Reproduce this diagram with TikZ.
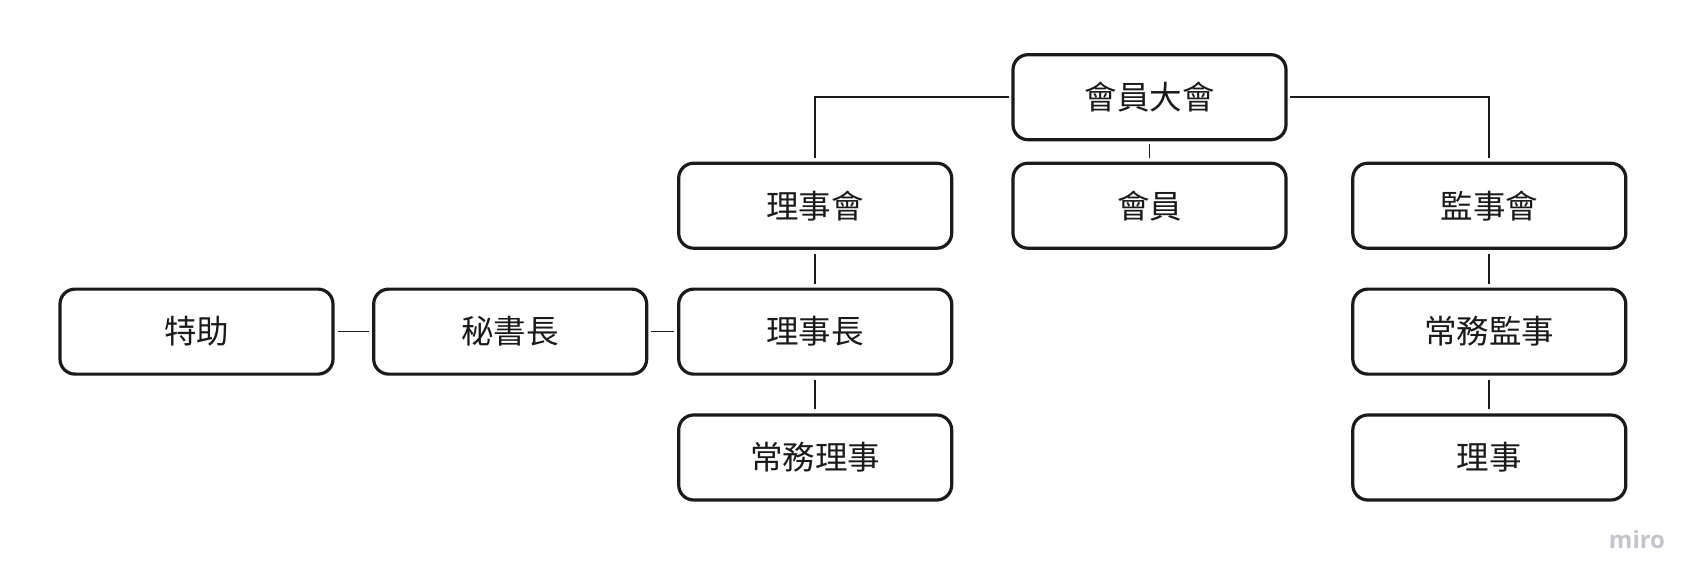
\documentclass[tikz,border=0pt]{standalone}
\usepackage{fontspec}
\newfontfamily\cjk{Noto Sans CJK TC}
\newfontfamily\logofont{Open Sans}
\definecolor{ink}{HTML}{1A1A1A}
\definecolor{logo}{HTML}{C4C4CE}
\begin{document}
\begin{tikzpicture}[x=1pt,y=-1pt,
  box/.style={draw=ink, line width=3.2pt, rounded corners=15pt, minimum width=273pt, minimum height=85pt, inner sep=0pt, font=\cjk\fontsize{32.5}{38}\selectfont, text=ink},
  conn/.style={draw=ink, line width=1.7pt},
  thin/.style={draw=ink, line width=1.1pt}]
\useasboundingbox (0,0) rectangle (1702,587);
\fill[white] (0,0) rectangle (1702,587);
\node[box] (gm) at (1149.5,97.2) {會員大會};
\node[box] (bd) at (815.2,205.7) {理事會};
\node[box] (mem) at (1149.5,205.7) {會員};
\node[box] (sv) at (1489.3,205.7) {監事會};
\node[box] (chair) at (815.2,331.6) {理事長};
\node[box] (sec) at (510.2,331.6) {秘書長};
\node[box] (asst) at (196.5,331.6) {特助};
\node[box] (exec) at (815.2,457.5) {常務理事};
\node[box] (csv) at (1489.3,331.6) {常務監事};
\node[box] (dir) at (1489.3,457.5) {理事};
\node[font=\logofont\bfseries\fontsize{24}{28}\selectfont, text=logo] (miro) at (1637,539) {miro};
\draw[conn, shorten >=4pt, shorten <=2pt] (gm.west) -| (bd.north);
\draw[conn, shorten >=4pt, shorten <=2pt] (gm.east) -| (sv.north);
\draw[thin, shorten >=4pt, shorten <=3pt] (gm.south) -- (mem.north);
\draw[conn, shorten >=4pt, shorten <=4pt] (bd.south) -- (chair.north);
\draw[conn, shorten >=4pt, shorten <=4pt] (chair.south) -- (exec.north);
\draw[conn, shorten >=4pt, shorten <=4pt] (sv.south) -- (csv.north);
\draw[conn, shorten >=4pt, shorten <=4pt] (csv.south) -- (dir.north);
\draw[conn, shorten >=3pt, shorten <=3pt] (asst.east) -- (sec.west);
\draw[conn, shorten >=3pt, shorten <=3pt] (sec.east) -- (chair.west);
\end{tikzpicture}
\end{document}
